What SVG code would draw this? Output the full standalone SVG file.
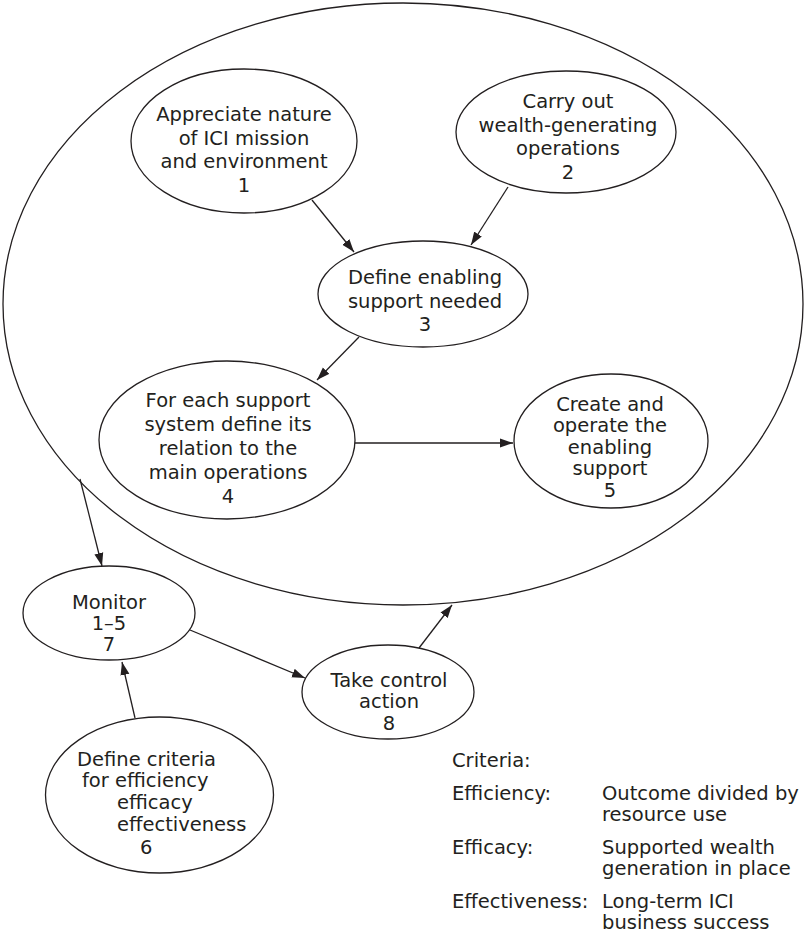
<svg xmlns="http://www.w3.org/2000/svg" width="805" height="936" viewBox="0 0 805 936">
<defs>
<style>
.shape{fill:none;stroke:#231f20;stroke-width:1.3}
.edge{fill:none;stroke:#231f20;stroke-width:1.3}
text{font-family:"DejaVu Sans","Liberation Sans",sans-serif;font-size:19.5px;fill:#231f20}
.c{text-anchor:middle}
</style>
<marker id="arr" markerUnits="userSpaceOnUse" markerWidth="14" markerHeight="10" refX="13" refY="5" orient="auto">
<path d="M0,0.5 L13,5 L0,9.5 Z" fill="#231f20"/>
</marker>
</defs>
<rect width="805" height="936" fill="#ffffff"/>
<g id="scope">
<ellipse class="shape" cx="403" cy="304" rx="400" ry="301"/>
</g>
<g id="n1">
<ellipse class="shape" cx="244" cy="141" rx="113" ry="72"/>
<text class="c" x="244" y="121">Appreciate nature</text>
<text class="c" x="244" y="145">of ICI mission</text>
<text class="c" x="244" y="168">and environment</text>
<text class="c" x="244" y="192">1</text>
</g>
<g id="n2">
<ellipse class="shape" cx="566" cy="132" rx="110" ry="61"/>
<text class="c" x="568" y="108">Carry out</text>
<text class="c" x="568" y="132">wealth-generating</text>
<text class="c" x="568" y="155">operations</text>
<text class="c" x="568" y="179">2</text>
</g>
<g id="n3">
<ellipse class="shape" cx="423" cy="294" rx="105" ry="53"/>
<text class="c" x="425" y="284">Define enabling</text>
<text class="c" x="425" y="308">support needed</text>
<text class="c" x="425" y="331">3</text>
</g>
<g id="n4">
<ellipse class="shape" cx="227" cy="440" rx="128" ry="79"/>
<text class="c" x="228" y="407">For each support</text>
<text class="c" x="228" y="431">system define its</text>
<text class="c" x="228" y="455">relation to the</text>
<text class="c" x="228" y="479">main operations</text>
<text class="c" x="228" y="503">4</text>
</g>
<g id="n5">
<ellipse class="shape" cx="611" cy="441" rx="97" ry="67"/>
<text class="c" x="610" y="411">Create and</text>
<text class="c" x="610" y="432">operate the</text>
<text class="c" x="610" y="454">enabling</text>
<text class="c" x="610" y="475">support</text>
<text class="c" x="610" y="497">5</text>
</g>
<g id="n7">
<ellipse class="shape" cx="109" cy="613" rx="86" ry="47"/>
<text class="c" x="109" y="609">Monitor</text>
<text class="c" x="109" y="630">1–5</text>
<text class="c" x="109" y="651">7</text>
</g>
<g id="n8">
<ellipse class="shape" cx="388" cy="692" rx="86" ry="47"/>
<text class="c" x="389" y="687">Take control</text>
<text class="c" x="389" y="708">action</text>
<text class="c" x="389" y="730">8</text>
</g>
<g id="n6">
<ellipse class="shape" cx="159.5" cy="795" rx="114" ry="78"/>
<text x="77" y="766">Define criteria</text>
<text x="82" y="787">for efficiency</text>
<text x="117" y="809">efficacy</text>
<text x="117" y="831">effectiveness</text>
<text x="140" y="854">6</text>
</g>
<g id="legend">
<text x="452" y="767">Criteria:</text>
<text x="452" y="800">Efficiency:</text>
<text x="602" y="800">Outcome divided by</text>
<text x="602" y="821">resource use</text>
<text x="452" y="854">Efficacy:</text>
<text x="602" y="854">Supported wealth</text>
<text x="602" y="875">generation in place</text>
<text x="452" y="908">Effectiveness:</text>
<text x="602" y="908">Long-term ICI</text>
<text x="602" y="929">business success</text>
</g>
<g id="connectors">
<line class="edge" x1="312" y1="200" x2="354" y2="252" marker-end="url(#arr)"/>
<line class="edge" x1="508" y1="187" x2="471" y2="245" marker-end="url(#arr)"/>
<line class="edge" x1="359" y1="337" x2="317" y2="380" marker-end="url(#arr)"/>
<line class="edge" x1="355" y1="443" x2="513" y2="443" marker-end="url(#arr)"/>
<line class="edge" x1="80" y1="479" x2="102" y2="566" marker-end="url(#arr)"/>
<line class="edge" x1="190" y1="630" x2="305" y2="678" marker-end="url(#arr)"/>
<line class="edge" x1="135" y1="718" x2="122" y2="662" marker-end="url(#arr)"/>
<line class="edge" x1="419" y1="648" x2="452" y2="605" marker-end="url(#arr)"/>
</g>
</svg>
